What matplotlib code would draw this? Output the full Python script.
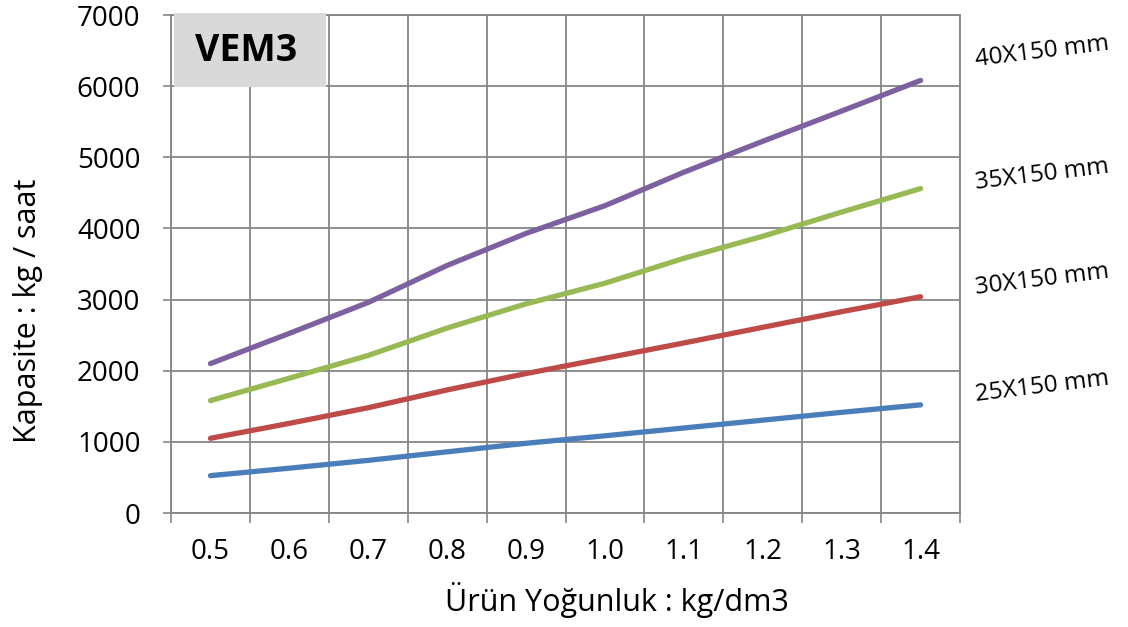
import matplotlib.pyplot as plt
from matplotlib import patches
import numpy as np

# x categories (product density, kg/dm3)
densities = ["0.5", "0.6", "0.7", "0.8", "0.9", "1.0", "1.1", "1.2", "1.3", "1.4"]

# capacity kg/h for each screw size
cap_25 = [525, 630, 740, 860, 980, 1085, 1195, 1305, 1415, 1520]
cap_30 = [1050, 1260, 1480, 1730, 1960, 2175, 2390, 2610, 2830, 3040]
cap_35 = [1580, 1895, 2215, 2600, 2940, 3230, 3580, 3890, 4230, 4560]
cap_40 = [2100, 2525, 2960, 3480, 3930, 4320, 4790, 5225, 5650, 6080]

series_names = ["25X150 mm", "30X150 mm", "35X150 mm", "40X150 mm"]
series_colors = ["#4A7EBB", "#BE4B48", "#98B954", "#7D60A0"]
y_ticks = [0, 1000, 2000, 3000, 4000, 5000, 6000, 7000]

plt.rcParams['font.family'] = ['Open Sans', 'DejaVu Sans']

W, H = 1128, 627
fig = plt.figure(figsize=(W / 100, H / 100), dpi=100)
ax = fig.add_axes([171 / W, 1 - 513 / H, (960 - 171) / W, (513 - 15) / H])

grid_col = "#868686"
x = np.arange(len(densities))

for vals, col in zip([cap_25, cap_30, cap_35, cap_40], series_colors):
    ax.plot(x, vals, color=col, linewidth=3.8, solid_capstyle='round', zorder=3)

ax.set_xlim(-0.5, len(densities) - 0.5)
ax.set_ylim(0, 7000)
ax.set_xticks(x)
ax.set_xticklabels(densities)
ax.set_xticks(np.arange(-0.5, len(densities), 1), minor=True)
ax.set_yticks(y_ticks)
ax.set_yticklabels([str(v) for v in y_ticks])

ax.tick_params(axis='x', which='major', length=0, pad=18, labelsize=20)
ax.tick_params(axis='x', which='minor', length=7, width=1.2, color=grid_col)
ax.tick_params(axis='y', which='major', length=6, width=1.2, color=grid_col,
               pad=16, labelsize=20)

ax.grid(axis='x', which='minor', color=grid_col, linewidth=1.3)
ax.grid(axis='y', which='major', color=grid_col, linewidth=1.3)
for sp in ax.spines.values():
    sp.set_color(grid_col)
    sp.set_linewidth(1.3)

fig.text(617 / W, 1 - 600 / H, "Ürün Yoğunluk : kg/dm3", fontsize=22,
         ha='center', va='center')
fig.text(28 / W, 1 - 311 / H, "Kapasite : kg / saat", fontsize=22,
         rotation=90, ha='center', va='center')

# title box
box = patches.Rectangle((174 / W, 1 - 87 / H), (326 - 174) / W, (87 - 13) / H,
                        transform=fig.transFigure, facecolor="#D9D9D9",
                        edgecolor="none", zorder=5)
fig.patches.append(box)
fig.text(246 / W, 1 - 51 / H, "VEM3", fontsize=27, fontweight='bold',
         ha='center', va='center', zorder=6)

# series labels on the right
label_pos = [(1042, 387), (1042, 280), (1042, 175), (1042, 52)]
for name, (px, py) in zip(series_names, label_pos):
    fig.text(px / W, 1 - py / H, name, fontsize=17.5, rotation=7,
             ha='center', va='center', rotation_mode='anchor')

fig.savefig("out.png", dpi=100)
